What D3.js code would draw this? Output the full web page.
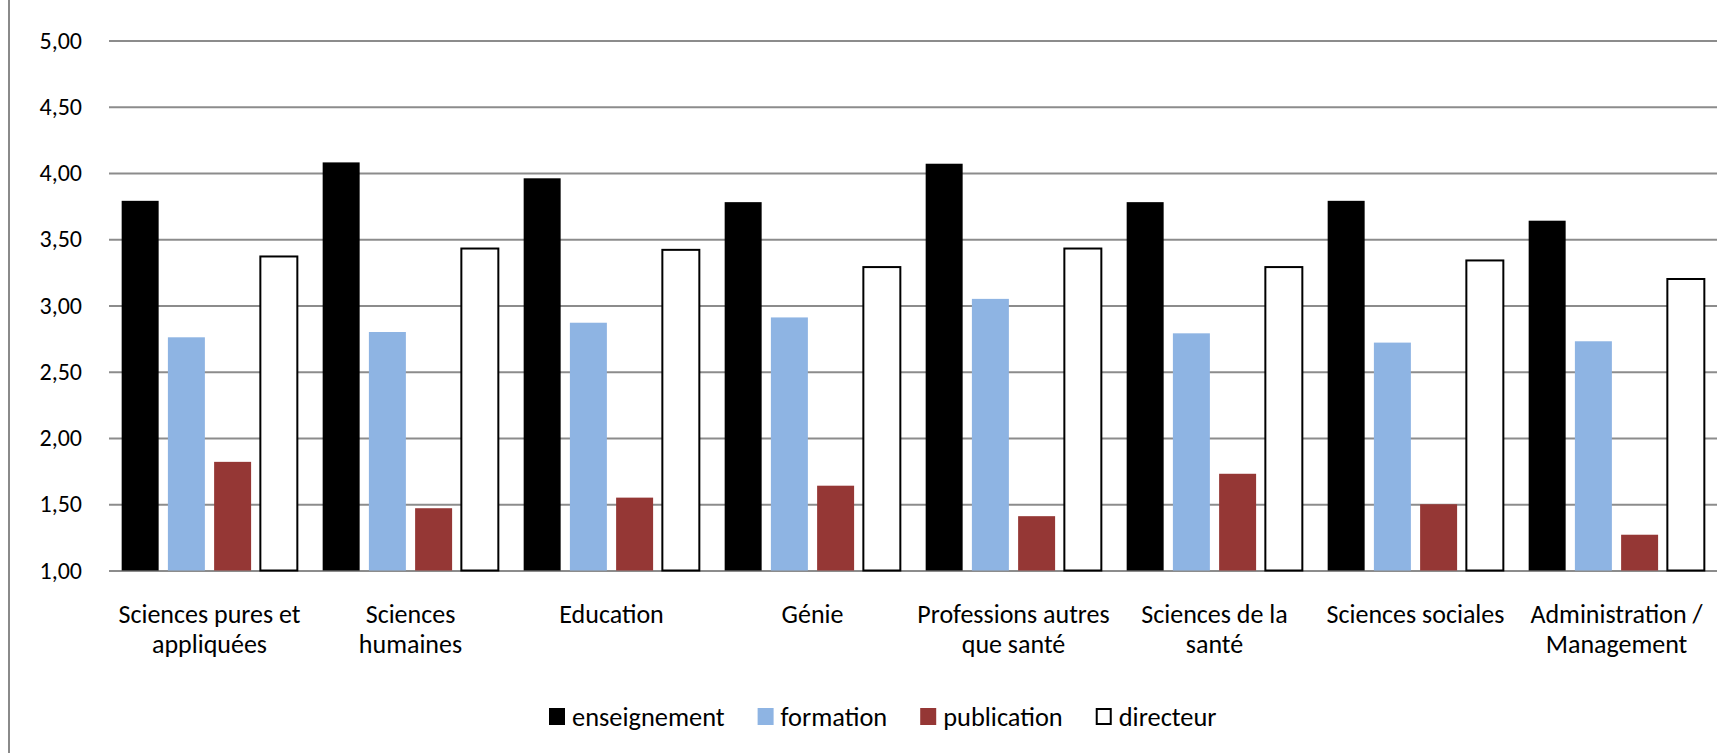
<!DOCTYPE html>
<html>
<head>
<meta charset="utf-8">
<script src="https://cdn.jsdelivr.net/npm/d3@7/dist/d3.min.js"></script>
<style>
  html, body { margin: 0; padding: 0; background: #fff; }
  svg { display: block; }
  text { font-family: Carlito, Calibri, Lato, "Open Sans", sans-serif; fill: #000; }
</style>
</head>
<body>
<svg id="chart" width="1726" height="753"></svg>
<script>
// ---- data ----
const categories = [
  "Sciences pures et appliquées",
  "Sciences humaines",
  "Education",
  "Génie",
  "Professions autres que santé",
  "Sciences de la santé",
  "Sciences sociales",
  "Administration / Management"
];
const categoryLines = [
  ["Sciences pures et", "appliquées"],
  ["Sciences", "humaines"],
  ["Education"],
  ["Génie"],
  ["Professions autres", "que santé"],
  ["Sciences de la", "santé"],
  ["Sciences sociales"],
  ["Administration /", "Management"]
];
const seriesNames = ["enseignement", "formation", "publication", "directeur"];
const enseignement = [3.79, 4.08, 3.96, 3.78, 4.07, 3.78, 3.79, 3.64];
const formation    = [2.76, 2.80, 2.87, 2.91, 3.05, 2.79, 2.72, 2.73];
const publication  = [1.82, 1.47, 1.55, 1.64, 1.41, 1.73, 1.50, 1.27];
const directeur    = [3.37, 3.43, 3.42, 3.29, 3.43, 3.29, 3.34, 3.20];
const yTicks = [1.0, 1.5, 2.0, 2.5, 3.0, 3.5, 4.0, 4.5, 5.0];
const yTickLabels = ["1,00", "1,50", "2,00", "2,50", "3,00", "3,50", "4,00", "4,50", "5,00"];

const seriesValues = [enseignement, formation, publication, directeur];
const fills   = ["#000000", "#8EB4E3", "#953735", "#FFFFFF"];
const strokes = ["none", "none", "none", "#000000"];

// ---- layout ----
const svg = d3.select("#chart");
const plot = { left: 109, right: 1717, top: 40.5, bottom: 570.5 };

const x0 = d3.scaleBand()
  .domain(categories)
  .range([plot.left, plot.right])
  .paddingInner(0.126)
  .paddingOuter(0.063);

const x1 = d3.scaleBand()
  .domain(seriesNames)
  .range([0, x0.bandwidth()])
  .paddingInner(0.2)
  .paddingOuter(0);

const y = d3.scaleLinear().domain([1, 5]).range([plot.bottom, plot.top]);

// left border of chart area
svg.append("line")
  .attr("x1", 9).attr("x2", 9).attr("y1", 0).attr("y2", 753)
  .attr("stroke", "#8a8a8a").attr("stroke-width", 2);

// gridlines + axis using d3 axis
const yAxis = d3.axisLeft(y)
  .tickValues(yTicks)
  .tickSize(-(plot.right - plot.left))
  .tickPadding(27)
  .tickFormat((d, i) => yTickLabels[i]);

const gy = svg.append("g")
  .attr("transform", `translate(${plot.left},0)`)
  .call(yAxis);
gy.select(".domain").remove();
gy.selectAll(".tick line").attr("stroke", "#8c8c8c").attr("stroke-width", 2);
gy.selectAll(".tick text")
  .attr("font-size", 24)
  .attr("fill", "#000")
  .style("font-family", "Carlito, Calibri, Lato, 'Open Sans', sans-serif");

// bars
const groups = svg.append("g").selectAll("g")
  .data(categories)
  .join("g")
  .attr("transform", d => `translate(${x0(d)},0)`);

groups.selectAll("rect")
  .data((d, ci) => seriesNames.map((s, si) => ({ s, si, v: seriesValues[si][ci] })))
  .join("rect")
  .attr("x", d => x1(d.s))
  .attr("width", x1.bandwidth())
  .attr("y", d => y(d.v))
  .attr("height", d => y(1) - y(d.v))
  .attr("fill", d => fills[d.si])
  .attr("stroke", d => strokes[d.si])
  .attr("stroke-width", d => strokes[d.si] === "none" ? 0 : 2);

// category labels
const xAxis = d3.axisBottom(x0).tickSize(0).tickFormat(() => "");
const gx = svg.append("g")
  .attr("transform", `translate(0,${plot.bottom})`)
  .call(xAxis);
gx.select(".domain").remove();
gx.selectAll(".tick").each(function(d, i) {
  const t = d3.select(this).append("text")
    .attr("text-anchor", "middle")
    .attr("font-size", 26)
    .attr("fill", "#000");
  categoryLines[i].forEach((line, li) => {
    t.append("tspan")
      .attr("x", 0)
      .attr("y", 52 + li * 30)
      .text(line);
  });
});

// legend
const legend = svg.append("g").attr("transform", "translate(549,0)");
let lx = 0;
seriesNames.forEach((name, i) => {
  const g = legend.append("g").attr("transform", `translate(${lx},0)`);
  g.append("rect")
    .attr("x", i === 3 ? 1 : 0).attr("y", i === 3 ? 709 : 708)
    .attr("width", i === 3 ? 14 : 16).attr("height", i === 3 ? 15 : 17)
    .attr("fill", fills[i])
    .attr("stroke", strokes[i])
    .attr("stroke-width", strokes[i] === "none" ? 0 : 2);
  const txt = g.append("text")
    .attr("x", 23).attr("y", 726)
    .attr("font-size", 26.4)
    .text(name);
  const w = txt.node().getComputedTextLength();
  lx += 23 + w + 33;
});
</script>
</body>
</html>
